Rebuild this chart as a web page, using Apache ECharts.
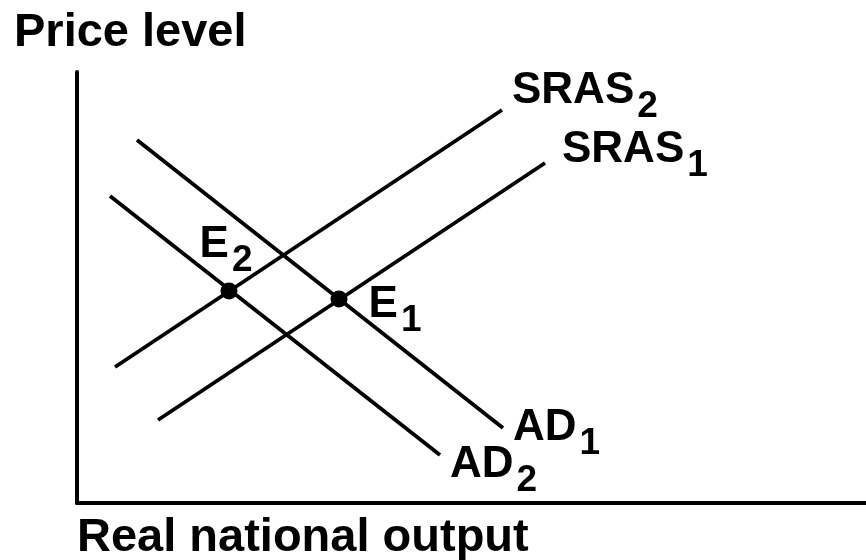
<!DOCTYPE html>
<html>
<head>
<meta charset="utf-8">
<script src="https://cdn.jsdelivr.net/npm/echarts@6/dist/echarts.min.js"></script>
<style>
  html, body { margin: 0; padding: 0; background: #fff; }
  #chart { width: 866px; height: 560px; }
</style>
</head>
<body>
<div id="chart"></div>
<script>
// curve end points (x = output, y = price level)
var sras2 = [[38, 136], [425, 393]];
var sras1 = [[81, 83], [468, 340]];
var ad1 = [[60, 363], [426, 75]];
var ad2 = [[33, 307], [363, 48]];
var equilibria = [[152, 212], [262, 204]];

var curveNames = ['SRAS', 'SRAS', 'AD', 'AD'];
var curveSubs = ['2', '1', '1', '2'];
var pointNames = ['E', 'E'];
var pointSubs = ['2', '1'];
var axisTitles = ['Price level', 'Real national output'];

var FONT = '"Liberation Sans", Arial, sans-serif';

var richStyle = {
    m: { fontSize: 44, fontWeight: 'bold', fontFamily: FONT, color: '#000' },
    s: { fontSize: 37, fontWeight: 'bold', fontFamily: FONT, color: '#000', padding: [32, 0, 0, 3] }
};

function lineSeries(data, idx, offset) {
    return {
        type: 'line',
        data: data,
        symbol: 'none',
        silent: true,
        lineStyle: { color: '#000', width: 3.8 },
        endLabel: {
            show: true,
            distance: 0,
            offset: offset,
            formatter: '{m|' + curveNames[idx] + '}{s|' + curveSubs[idx] + '}',
            rich: richStyle
        }
    };
}

var chart = echarts.init(document.getElementById('chart'));

var option = {
    animation: false,
    backgroundColor: '#fff',
    grid: { left: 77, right: 0, top: 72, bottom: 57 },
    xAxis: {
        type: 'value', min: 0, max: 789,
        axisLine: { show: true, lineStyle: { color: '#000', width: 4 } },
        axisTick: { show: false }, axisLabel: { show: false }, splitLine: { show: false }
    },
    yAxis: {
        type: 'value', min: 0, max: 431,
        axisLine: { show: true, lineStyle: { color: '#000', width: 4 } },
        axisTick: { show: false }, axisLabel: { show: false }, splitLine: { show: false }
    },
    graphic: [
        { type: 'text', left: 14, top: 10,
          style: { text: axisTitles[0], font: 'bold 47px ' + FONT, fill: '#000' } },
        { type: 'text', left: 77, top: 515,
          style: { text: axisTitles[1], font: 'bold 47px ' + FONT, fill: '#000' } }
    ],
    series: [
        lineSeries(sras2, 0, [10, -19]),
        lineSeries(sras1, 1, [17, -13]),
        lineSeries(ad1, 2, [10, 0]),
        lineSeries(ad2, 3, [10, 10]),
        {
            type: 'scatter',
            data: equilibria,
            symbolSize: 17,
            silent: true,
            itemStyle: { color: '#000', opacity: 1 },
            label: {
                show: true,
                formatter: function (p) {
                    return '{m|' + pointNames[p.dataIndex] + '}{s|' + pointSubs[p.dataIndex] + '}';
                },
                rich: richStyle
            },
            labelLayout: function (p) {
                return p.dataIndex === 0
                    ? { dx: -3, dy: -46 }
                    : { dx: 56, dy: 6 };
            }
        }
    ]
};

chart.setOption(option);
</script>
</body>
</html>
